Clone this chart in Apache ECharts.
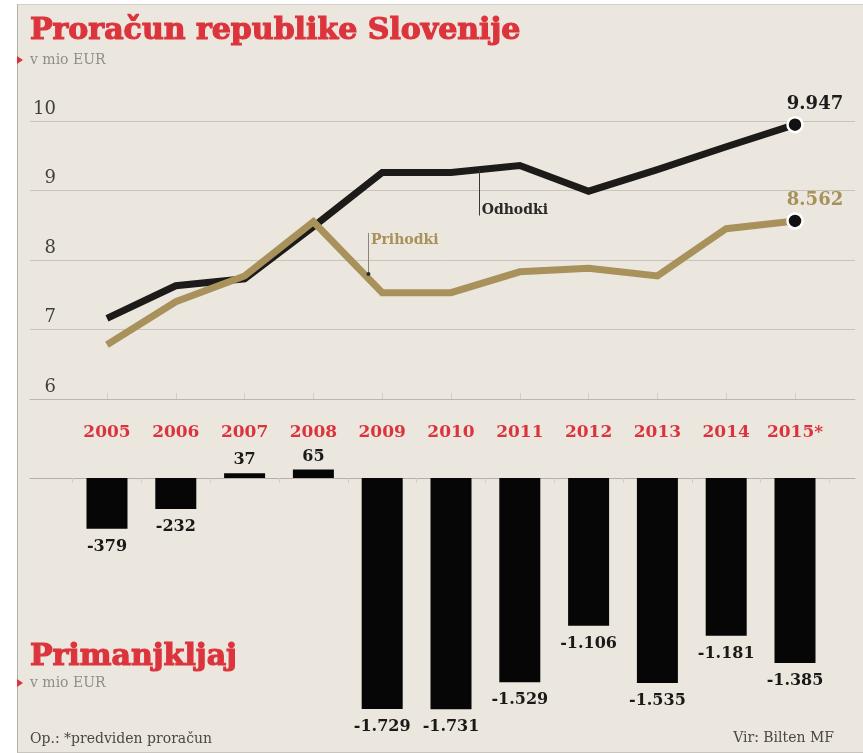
<!DOCTYPE html>
<html>
<head>
<meta charset="utf-8">
<script src="https://cdn.jsdelivr.net/npm/echarts@6/dist/echarts.min.js"></script>
<style>
  html, body { margin: 0; padding: 0; background: #ffffff; }
  #frame { position: absolute; left: 17px; top: 4px; width: 846px; height: 747px;
           background: #ebe7de; border-left: 1px solid #b3afa7; border-top: 1px solid #d3cfc7; border-bottom: 1px solid #c9c5bd; }
  #chart { position: absolute; left: 0; top: 0; width: 863px; height: 753px; }
</style>
</head>
<body>
<div id="frame"></div>
<div id="chart"></div>
<script>
// ---- data ----
const years = [2005, 2006, 2007, 2008, 2009, 2010, 2011, 2012, 2013, 2014, 2015];
const yearLabels = ['2005', '2006', '2007', '2008', '2009', '2010', '2011', '2012', '2013', '2014', '2015*'];
const odhodki = [7.16, 7.63, 7.73, 8.48, 9.26, 9.26, 9.36, 8.99, 9.30, 9.63, 9.947];
const prihodki = [6.78, 7.40, 7.77, 8.55, 7.53, 7.53, 7.83, 7.88, 7.77, 8.45, 8.562];
const primanjkljaj = [-379, -232, 37, 65, -1729, -1731, -1529, -1106, -1535, -1181, -1385];
const lineTicks = [6, 7, 8, 9, 10];

// ---- styling ----
const RED = '#dc343c';
const GOLD = '#a8915a';
const BLACK = '#1c1b1a';
const SERIF = '"DejaVu Serif", serif';
const X_MIN = 2003.881, X_MAX = 2015.872;

function fmtThousands(v) {
  const s = String(Math.abs(v)).replace(/\B(?=(\d{3})+(?!\d))/g, '.');
  return (v < 0 ? '-' : '') + s;
}

function lineData(vals, color) {
  return years.map((y, i) => {
    const item = { value: [y, vals[i]] };
    if (i === vals.length - 1) {
      item.symbol = 'circle';
      item.symbolSize = 15;
      item.itemStyle = { color: '#111111', borderColor: '#ffffff', borderWidth: 2.5 };
      item.label = {
        show: true, position: 'top', distance: 5, offset: [20, 2],
        formatter: (p) => p.value[1].toFixed(3),
        color: color, fontFamily: SERIF, fontWeight: 'bold', fontSize: 18
      };
    }
    return item;
  });
}

const barData = years.map((y, i) => ({
  value: [y, primanjkljaj[i]],
  label: { position: primanjkljaj[i] < 0 ? 'bottom' : 'top', distance: primanjkljaj[i] < 0 ? 10 : 5 }
}));

const chart = echarts.init(document.getElementById('chart'), null, { renderer: 'canvas' });

const option = {
  animation: false,
  backgroundColor: 'transparent',
  grid: [
    { left: 30, right: 8, top: 121, height: 278 },
    { left: 30, right: 8, top: 438, height: 280.5 }
  ],
  xAxis: [
    {
      gridIndex: 0, type: 'value', min: X_MIN, max: X_MAX,
      splitLine: { show: false },
      axisLine: { show: true, lineStyle: { color: '#bcb8af', width: 1 } },
      axisTick: { show: true, inside: true, length: 6, customValues: years, lineStyle: { color: '#d2cec5' } },
      axisLabel: {
        show: true, customValues: years, margin: 25,
        formatter: (v) => yearLabels[years.indexOf(Math.round(v))],
        color: RED, fontFamily: SERIF, fontWeight: 'bold', fontSize: 17
      }
    },
    {
      gridIndex: 1, type: 'value', min: X_MIN, max: X_MAX,
      splitLine: { show: false },
      axisLine: { show: true, onZero: true, lineStyle: { color: '#b5b1a8', width: 1 } },
      axisTick: { show: true, length: 5, customValues: years.map(y => y - 0.5).concat([2015.5]), lineStyle: { color: '#d2cec5' } },
      axisLabel: { show: false }
    }
  ],
  yAxis: [
    {
      gridIndex: 0, type: 'value', min: 6, max: 10, interval: 1,
      axisLine: { show: false }, axisTick: { show: false },
      splitLine: { show: true, lineStyle: { color: '#c8c4bc', width: 1 } },
      axisLabel: {
        inside: true, align: 'right', margin: 26, verticalAlign: 'bottom', padding: [0, 0, 3, 0],
        customValues: lineTicks,
        color: '#403f3c', fontFamily: SERIF, fontSize: 18
      }
    },
    { gridIndex: 1, type: 'value', min: -1800, max: 300, show: false }
  ],
  series: [
    {
      name: 'Odhodki', type: 'line', xAxisIndex: 0, yAxisIndex: 0, silent: true,
      data: lineData(odhodki, BLACK),
      symbol: 'none', showSymbol: true, z: 3,
      lineStyle: { color: BLACK, width: 7, join: 'miter' },
      itemStyle: { color: BLACK },
      markLine: {
        silent: true, symbol: ['none', 'none'], animation: false,
        lineStyle: { color: '#3a3835', width: 1, type: 'solid' },
        label: { show: false },
        data: [[{ coord: [2010.41, 9.30] }, { coord: [2010.41, 8.64] }]]
      },
      markPoint: {
        silent: true, animation: false,
        data: [{
          coord: [2010.41, 8.72], symbol: 'rect', symbolSize: 1,
          itemStyle: { color: 'rgba(0,0,0,0)' },
          label: { show: true, position: 'right', distance: 2, formatter: 'Odhodki',
                   color: '#2a2927', fontFamily: SERIF, fontWeight: 'bold', fontSize: 14 }
        }]
      }
    },
    {
      name: 'Prihodki', type: 'line', xAxisIndex: 0, yAxisIndex: 0, silent: true,
      data: lineData(prihodki, GOLD),
      symbol: 'none', showSymbol: true, z: 4,
      lineStyle: { color: GOLD, width: 7, join: 'miter' },
      itemStyle: { color: GOLD },
      markLine: {
        silent: true, symbol: ['none', 'none'], animation: false,
        lineStyle: { color: '#8c8476', width: 1, type: 'solid' },
        label: { show: false },
        data: [[{ coord: [2008.80, 7.80] }, { coord: [2008.80, 8.39] }]]
      },
      markPoint: {
        silent: true, animation: false,
        data: [
          {
            coord: [2008.80, 8.28], symbol: 'rect', symbolSize: 1,
            itemStyle: { color: 'rgba(0,0,0,0)' },
            label: { show: true, position: 'right', distance: 2, formatter: 'Prihodki',
                     color: GOLD, fontFamily: SERIF, fontWeight: 'bold', fontSize: 14 }
          },
          {
            coord: [2008.80, 7.80], symbol: 'circle', symbolSize: 4,
            itemStyle: { color: '#2a2927' }, label: { show: false }
          }
        ]
      }
    },
    {
      name: 'Primanjkljaj', type: 'bar', xAxisIndex: 1, yAxisIndex: 1, silent: true,
      data: barData, barWidth: 41,
      itemStyle: { color: '#060606' },
      label: {
        show: true,
        formatter: (p) => fmtThousands(p.value[1]),
        color: '#1a1918', fontFamily: SERIF, fontWeight: 'bold', fontSize: 16
      }
    }
  ],
  graphic: [
    { type: 'text', silent: true, style: { x: 30, y: 31, text: 'Proračun republike Slovenije', fill: RED,
      stroke: RED, lineWidth: 1.2,
      font: 'bold 30px "DejaVu Serif"', textAlign: 'left', textVerticalAlign: 'middle', verticalAlign: 'middle' } },
    { type: 'polygon', silent: true, shape: { points: [[17, 56], [23, 60], [17, 64]] }, style: { fill: RED } },
    { type: 'text', silent: true, style: { x: 30, y: 60, text: 'v mio EUR', fill: '#8f8d88',
      font: '14px "DejaVu Serif"', textAlign: 'left', textVerticalAlign: 'middle', verticalAlign: 'middle' } },
    { type: 'text', silent: true, style: { x: 30, y: 657, text: 'Primanjkljaj', fill: RED,
      stroke: RED, lineWidth: 1.2,
      font: 'bold 30px "DejaVu Serif"', textAlign: 'left', textVerticalAlign: 'middle', verticalAlign: 'middle' } },
    { type: 'polygon', silent: true, shape: { points: [[17, 679], [23, 683], [17, 687]] }, style: { fill: RED } },
    { type: 'text', silent: true, style: { x: 30, y: 683, text: 'v mio EUR', fill: '#8f8d88',
      font: '14px "DejaVu Serif"', textAlign: 'left', textVerticalAlign: 'middle', verticalAlign: 'middle' } },
    { type: 'text', silent: true, style: { x: 30, y: 739, text: 'Op.: *predviden proračun', fill: '#4a4845',
      font: '14px "DejaVu Serif"', textAlign: 'left', textVerticalAlign: 'middle', verticalAlign: 'middle' } },
    { type: 'text', silent: true, style: { x: 834, y: 738, text: 'Vir: Bilten MF', fill: '#4a4845',
      font: '14px "DejaVu Serif"', textAlign: 'right', textVerticalAlign: 'middle', verticalAlign: 'middle' } }
  ]
};

chart.setOption(option);
</script>
</body>
</html>
